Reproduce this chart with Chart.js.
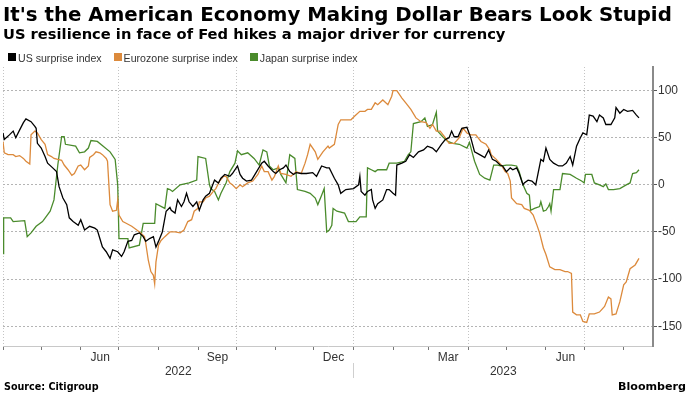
<!DOCTYPE html>
<html>
<head>
<meta charset="utf-8">
<script src="https://cdn.jsdelivr.net/npm/chart.js"></script>
<style>
  body { margin: 0; background: #fff; }
  #wrap { position: relative; width: 692px; height: 395px; overflow: hidden; }
  #chartBox { position: absolute; left: 0; top: 0; width: 692px; height: 395px; }
  .txt { position: absolute; white-space: nowrap; line-height: 1; color: #000; }
  #title { left: 3px; top: 3px; font: bold 19.8px "DejaVu Sans", sans-serif; }
  #subtitle { left: 3px; top: 25px; font: bold 14.7px "DejaVu Sans", sans-serif; }
  #legend { left: 8px; top: 52px; font: 10.6px "Liberation Sans", Arial, sans-serif; color: #333; }
  #legend span { display: inline-block; vertical-align: top; }
  #legend .sw { width: 8px; height: 8px; margin: 1px 2px 0 0; }
  #legend .item { margin-right: 12px; }
  #source { left: 4px; top: 381px; font: bold 9.6px "DejaVu Sans", sans-serif; }
  #brand { right: 6px; top: 380px; font: bold 11.1px "DejaVu Sans", sans-serif; }
</style>
</head>
<body>
<div id="wrap">
  <div id="chartBox"><canvas id="surpriseChart"></canvas></div>
  <div class="txt" id="title">It's the American Economy Making Dollar Bears Look Stupid</div>
  <div class="txt" id="subtitle">US resilience in face of Fed hikes a major driver for currency</div>
  <div class="txt" id="legend"></div>
  <div class="txt" id="source">Source: Citigroup</div>
  <div class="txt" id="brand">Bloomberg</div>
</div>
<script>
// days counted from 1 Apr 2022
const seriesNames = ["US surprise index", "Eurozone surprise index", "Japan surprise index"];
const seriesColors = ["#000000", "#dc8a3c", "#4a8b2c"];

const usDays = [0,1,5,8,10,13,16,18,22,25,26,27,30,33,35,39,42,44,47,50,52,55,59,61,64,68,72,74,76,78,81,84,86,90,93,95,98,101,103,107,110,112,115,118,120,122,125,128,131,
  132,135,137,140,142,144,146,149,152,154,157,159,162,166,169,171,174,178,180,184,186,188,191,195,199,203,205,208,212,214,217,220,222,225,228,230,234,238,243,246,250,254,256,
  260,263,265,269,275,279,280,281,284,286,289,290,292,294,298,301,303,306,308,309,313,316,319,322,326,330,333,337,340,344,347,350,352,354,357,360,364,367,370,374,378,381,
  384,387,390,392,395,398,400,403,405,408,409,412,415,418,421,422,424,426,429,432,436,439,442,445,447,450,453,455,458,460,463,466,468,471,473,477,480,481,484,487,490,494,497,499];
const usValues = [55,48,53,57,50,58,66,70,67,62,60,44,39,30,23,18,14,-2,-14,-21,-35,-39,-43,-37,-48,-44,-46,-48,-57,-66,-71,-78,-69,-71,-76,-71,-60,-59,-53,-51,-55,-60,-57,-55,-66,-60,-50,-28,-24,
  -27,-30,-16,-23,-18,-9,-18,-23,-18,-27,-16,-12,-9,5,2,7,11,9,12,20,11,7,4,5,14,23,25,20,14,12,16,18,21,14,11,13,12,12,13,9,20,18,18,
  7,0,-9,-5,-4,0,9,-7,-11,-7,-5,-16,-25,-20,-16,-5,-5,-9,-11,21,23,25,32,29,35,37,41,39,35,43,48,50,57,51,51,60,61,50,35,32,29,37,
  27,25,21,20,14,18,16,18,12,0,2,5,4,0,20,27,25,39,27,23,20,20,23,30,21,41,50,55,53,74,73,67,74,71,64,64,71,82,76,80,78,79,74,71];

const euDays = [0,1,4,8,10,13,16,18,21,22,25,27,30,33,35,38,40,43,46,48,51,54,56,59,61,64,67,68,71,73,76,78,81,82,84,86,89,90,91,94,97,101,105,108,111,112,114,116,118,119,120,122,124,127,131,
  135,139,142,145,148,150,153,154,157,159,162,165,167,170,173,175,178,180,183,186,188,192,196,200,203,205,208,211,213,216,218,222,226,230,234,237,239,241,245,247,251,255,
  256,260,263,265,269,273,276,280,284,286,289,292,294,298,302,305,306,309,313,316,320,324,328,332,335,337,340,343,347,350,354,358,361,364,367,371,375,379,382,
  383,387,391,394,396,398,399,403,407,409,413,416,419,421,424,426,429,433,437,441,443,446,447,450,453,455,458,460,464,468,472,475,477,478,481,484,487,489,492,496,499];
const euValues = [46,34,32,32,30,31,28,25,22,53,57,55,48,43,32,30,28,27,26,21,16,10,12,20,21,16,20,29,32,35,34,32,28,25,-21,-28,-27,-16,-32,-39,-41,-44,-48,-51,-55,-62,-80,-92,-96,-105,-82,-64,-59,-55,-50,
  -50,-51,-48,-39,-37,-28,-25,-18,-18,-14,-12,-7,-4,4,9,9,2,0,-4,0,-2,2,4,11,20,14,14,5,9,20,12,11,9,14,12,23,32,43,35,27,35,41,
  39,43,64,69,69,69,73,78,78,80,80,87,85,90,85,94,100,100,92,87,80,71,67,66,60,64,57,57,50,44,44,50,60,55,53,53,46,43,37,
  32,27,21,14,12,4,-14,-20,-21,-25,-27,-32,-43,-51,-67,-74,-87,-90,-90,-92,-92,-94,-135,-138,-138,-145,-146,-137,-137,-135,-129,-119,-121,-138,-137,-124,-106,-103,-89,-85,-78];

const jpDays = [0,0.5,6,8,17,19,22,26,31,37,40,43,46,48,49,57,60,64,67,69,74,84,88,90,91,98,99,107,110,119,120,127,129,131,
  133,139,146,152,153,159,162,163,166,169,171,175,178,182,184,187,192,197,201,204,207,209,212,216,218,222,225,229,231,237,241,245,247,250,252,254,256,
  258,259,262,268,271,277,280,285,286,289,292,294,301,303,309,315,318,320,322,328,331,333,337,340,341,345,349,353,358,364,366,368,370,374,378,382,
  385,388,391,395,399,403,405,408,411,413,414,417,421,422,424,426,428,429,430,432,437,439,445,450,454,456,457,462,464,468,471,473,475,479,484,489,492,494,497,499];
const jpValues = [-73,-35,-35,-39,-38,-55,-51,-44,-39,-28,-16,21,51,51,43,41,34,35,39,47,46,35,27,0,-57,-57,-67,-64,-41,-41,-20,-25,-4,-5,
  -7,0,2,5,30,28,0,-4,-7,-16,-9,2,14,23,36,32,34,28,21,37,35,20,16,18,11,2,32,28,-5,-7,-9,-14,-21,-11,-4,-50,-48,
  -43,-25,-28,-30,-39,-39,-34,-34,18,16,14,16,16,23,23,25,32,35,65,67,71,62,64,77,57,51,46,44,43,39,45,35,25,11,7,5,
  21,21,20,21,21,20,14,0,-9,-11,-27,-25,-23,-18,-28,-27,-23,-20,-28,-5,-5,12,11,7,4,2,11,11,2,0,-2,1,-5,-5,-4,0,2,12,13,16];

const yTicks = [-150, -100, -50, 0, 50, 100];
const labelMonths = ["2022-06", "2022-09", "2022-12", "2023-03", "2023-06"];
const labelNames = ["Jun", "Sep", "Dec", "Mar", "Jun"];
const yearNames = ["2022", "2023"];

const START = Date.UTC(2022, 3, 1);
const X_MAX = 510;
const dayOf = (y, m) => Math.round((Date.UTC(y, m, 1) - START) / 864e5);

// month boundaries on the axis
const monthTicks = [];
for (let i = 0; i < 17; i++) {
  const y = 2022 + Math.floor((3 + i) / 12), m = (3 + i) % 12;
  monthTicks.push({ day: dayOf(y, m), key: y + "-" + String(m + 1).padStart(2, "0"), m: m });
}
const jan2023 = dayOf(2023, 0);
const yearCentres = [jan2023 / 2, (jan2023 + X_MAX) / 2];

const legend = document.getElementById("legend");
seriesNames.forEach((n, i) => {
  legend.innerHTML += '<span class="sw" style="background:' + seriesColors[i] + '"></span><span class="item">' + n + '</span>';
});

const toPoints = (days, vals) => days.map((d, i) => ({ x: d, y: vals[i] }));
const tickFont = { family: "'Liberation Sans', Arial, sans-serif", size: 12 };

const yearDivider = {
  id: "yearDivider",
  afterDraw(chart) {
    const x = Math.round(chart.scales.x.getPixelForValue(jan2023)) + 0.5;
    const ctx = chart.ctx;
    ctx.save();
    ctx.strokeStyle = "#cfcfcf";
    ctx.lineWidth = 1;
    ctx.beginPath();
    ctx.moveTo(x, 363);
    ctx.lineTo(x, 378);
    ctx.stroke();
    ctx.restore();
  }
};

new Chart(document.getElementById("surpriseChart"), {
  type: "line",
  data: {
    datasets: [
      { label: seriesNames[0], data: toPoints(usDays, usValues), borderColor: seriesColors[0] },
      { label: seriesNames[1], data: toPoints(euDays, euValues), borderColor: seriesColors[1] },
      { label: seriesNames[2], data: toPoints(jpDays, jpValues), borderColor: seriesColors[2] }
    ]
  },
  options: {
    responsive: true,
    maintainAspectRatio: false,
    animation: false,
    parsing: false,
    elements: {
      line: { borderWidth: 1.3, tension: 0, fill: false },
      point: { radius: 0 }
    },
    layout: { padding: { top: 67, left: 3, right: 0, bottom: 15 } },
    plugins: { legend: { display: false }, tooltip: { enabled: false } },
    scales: {
      x: {
        type: "linear", position: "bottom", min: 0, max: X_MAX, weight: 0,
        afterBuildTicks: s => { s.ticks = monthTicks.map(t => ({ value: t.day })); },
        afterFit: s => { s.height = 18; },
        grid: {
          color: c => {
            const t = c.tick && monthTicks.find(m => m.day === c.tick.value);
            return t && t.m % 3 === 0 ? "#c4c4c4" : "rgba(0,0,0,0)";
          },
          tickColor: "#777", tickLength: 4, lineWidth: 1
        },
        border: { display: true, color: "#c8c8c8", width: 1, dash: [1, 2] },
        ticks: {
          autoSkip: false, maxRotation: 0, labelOffset: 19.5, padding: 0,
          color: "#333", font: tickFont,
          callback: v => {
            const t = monthTicks.find(m => m.day === v);
            const i = t ? labelMonths.indexOf(t.key) : -1;
            return i >= 0 ? labelNames[i] : "";
          }
        }
      },
      year: {
        type: "linear", axis: "x", position: "bottom", min: 0, max: X_MAX, weight: 1,
        afterBuildTicks: s => { s.ticks = yearCentres.map(v => ({ value: v })); },
        afterFit: s => { s.height = 16; },
        grid: { display: false, drawTicks: false },
        border: { display: false },
        ticks: {
          autoSkip: false, maxRotation: 0, padding: 0, color: "#333", font: tickFont,
          callback: (v, i) => yearNames[i]
        }
      },
      y: {
        type: "linear", position: "right", min: -171, max: 125,
        afterBuildTicks: s => { s.ticks = yTicks.map(v => ({ value: v })); },
        afterFit: s => { s.width = 39; },
        grid: { color: "#b4b4b4", tickColor: "#555", tickLength: 4, lineWidth: 1 },
        border: { display: true, color: "#8a8a8a", width: 2, dash: [2, 2] },
        ticks: { padding: 1, color: "#333", font: tickFont }
      }
    }
  },
  plugins: [yearDivider]
});
</script>
</body>
</html>
